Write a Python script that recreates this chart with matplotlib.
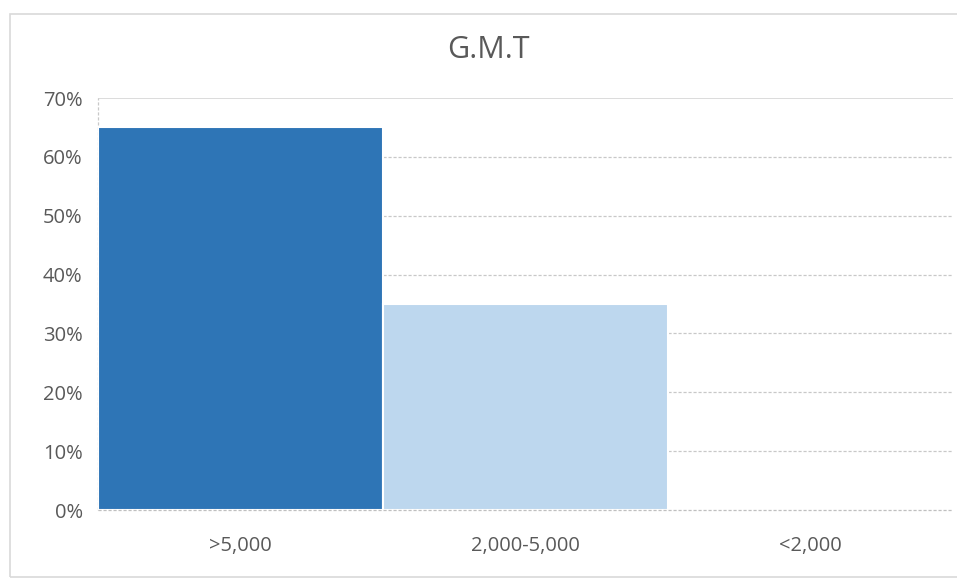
import matplotlib
matplotlib.use('Agg')
import matplotlib.pyplot as plt
from matplotlib.patches import Rectangle

# 데이터
categories = ['>5,000', '2,000-5,000', '<2,000']
shares = [65, 35, 0]
bar_colors = ['#2E75B6', '#BDD7EE', '#BDD7EE']
yticks = [0, 10, 20, 30, 40, 50, 60, 70]

plt.rcParams['font.family'] = ['Open Sans', 'DejaVu Sans']

fig = plt.figure(figsize=(9.57, 5.80), dpi=100)
ax = fig.add_axes([98/957, 1 - 510/580, (953 - 98)/957, (510 - 98)/580])

# 차트 바깥 테두리
fig.patches.append(Rectangle((10/957, 3/580), 1.0, 1 - 17/580, transform=fig.transFigure,
                             fill=False, edgecolor='#D9D9D9', linewidth=1.2))

x = list(range(len(categories)))
ax.bar(x, shares, width=1.0, color=bar_colors, edgecolor='white', linewidth=1.5, zorder=3)

ax.set_xlim(-0.5, 2.5)
ax.set_ylim(0, 70)
ax.set_yticks(yticks)
ax.set_yticklabels([f'{t}%' for t in yticks])
ax.set_xticks(x)
ax.set_xticklabels(categories)
ax.tick_params(axis='both', length=0, labelsize=14.5, colors='#595959')
ax.tick_params(axis='y', pad=11)
ax.tick_params(axis='x', pad=19)

# 격자선
dash = (0, (2.5, 1.5))
for t in yticks[1:-1]:
    ax.axhline(t, color='#C8C8C8', linestyle=dash, linewidth=0.9, zorder=1)
ax.axhline(70, color='#D9D9D9', linewidth=1.3, zorder=1)
ax.axhline(0, color='#BFBFBF', linestyle=dash, linewidth=0.9, zorder=4, clip_on=False)
ax.axvline(-0.5, color='#C8C8C8', linestyle=dash, linewidth=0.9, zorder=2, clip_on=False)

for s in ax.spines.values():
    s.set_visible(False)

fig.text(488/957, 1 - 50/580, 'G.M.T', ha='center', va='center', fontsize=22, color='#595959')

plt.savefig('out.png', dpi=100)
